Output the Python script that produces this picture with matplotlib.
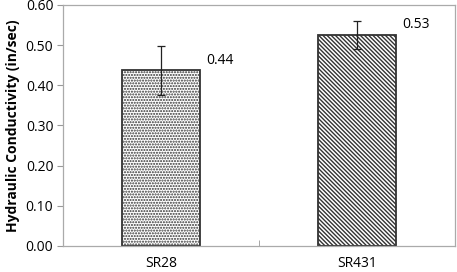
import matplotlib.pyplot as plt
import numpy as np

plt.rcParams['font.family'] = ['Open Sans', 'DejaVu Sans']
plt.rcParams['hatch.linewidth'] = 1.0

categories = ['SR28', 'SR431']
values = [0.437, 0.525]
errors = [0.061, 0.035]
labels = ['0.44', '0.53']
hatches = ['.' * 6, '\\' * 8]

fig = plt.figure(figsize=(4.57, 2.72), dpi=100)
ax = fig.add_axes([0.138, 0.096, 0.858, 0.886])

x = np.arange(len(categories))
for i in range(len(categories)):
    ax.bar(x[i], values[i], width=0.4, color='white', edgecolor='#333333',
           hatch=hatches[i], linewidth=1.3, zorder=2)
    ax.errorbar(x[i], values[i], yerr=errors[i], fmt='none', ecolor='#222222',
                elinewidth=0.9, capsize=3, capthick=0.9, zorder=3)
    ax.text(x[i] + 0.23, values[i] + 0.025, labels[i], fontsize=10,
            ha='left', va='center')

ax.set_xlim(-0.5, 1.5)
ax.set_ylim(0, 0.6)
ax.set_yticks(np.arange(0, 0.61, 0.1))
ax.set_yticklabels(['%.2f' % v for v in np.arange(0, 0.61, 0.1)], fontsize=10)
ax.set_xticks(x)
ax.set_xticklabels(categories, fontsize=10)
ax.tick_params(axis='x', length=0, pad=7)
ax.tick_params(axis='y', length=4, color='#999999', pad=3)
ax.set_xticks([0.5], minor=True)
ax.tick_params(axis='x', which='minor', direction='in', length=4, color='#999999')
for s in ax.spines.values():
    s.set_color('#aaaaaa')
    s.set_linewidth(0.9)
ax.set_ylabel('Hydraulic Conductivity (in/sec)', fontsize=10, fontweight='bold')

fig.savefig('out.png', dpi=100)
